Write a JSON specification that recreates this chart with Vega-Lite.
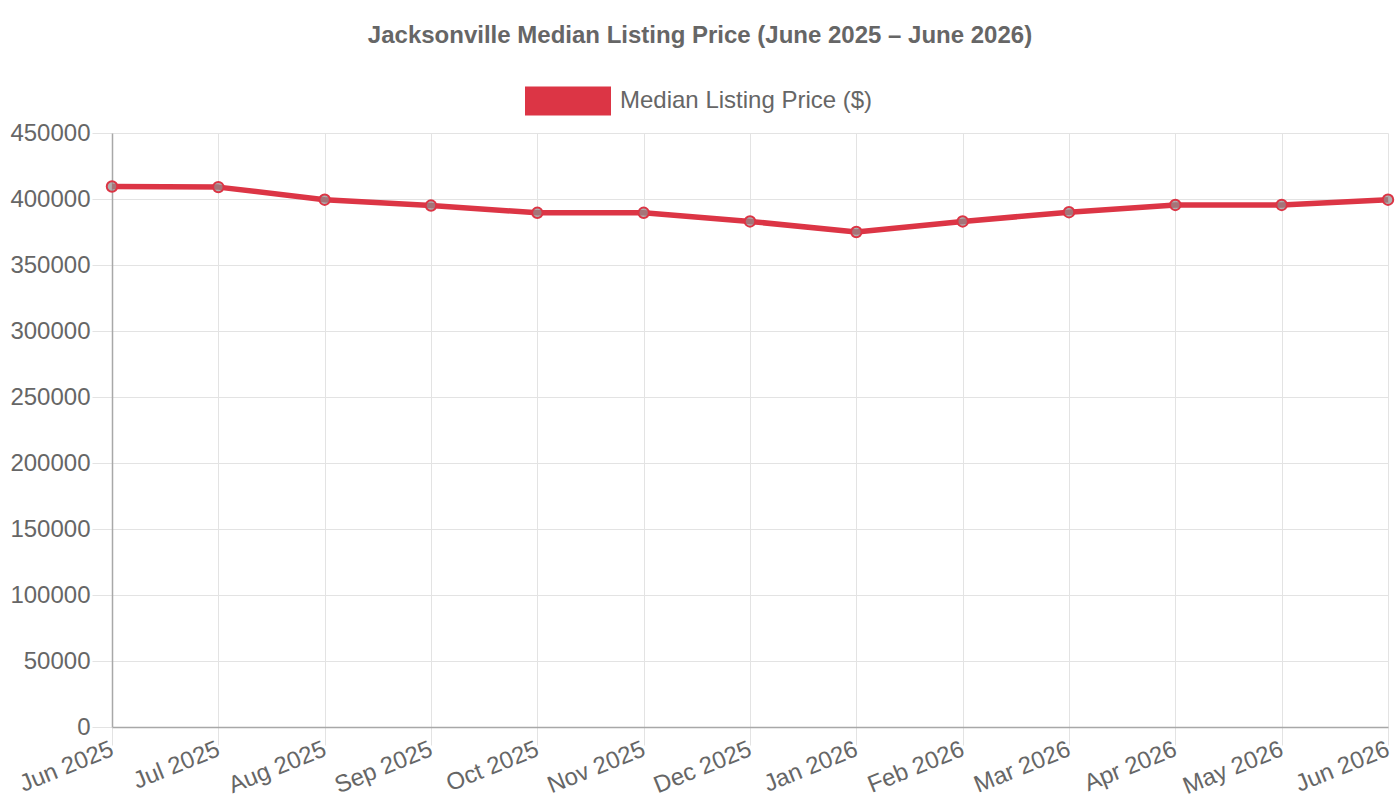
{
  "$schema": "https://vega.github.io/schema/vega-lite/v6.json",
  "autosize": "none",
  "width": 1276,
  "height": 594,
  "padding": {"left": 112, "top": 133, "right": 12, "bottom": 73},
  "background": "white",
  "title": {
    "text": "Jacksonville Median Listing Price (June 2025 – June 2026)",
    "fontSize": 24,
    "fontWeight": "bold",
    "font": "Liberation Sans",
    "color": "#666666",
    "anchor": "middle",
    "dx": -50,
    "offset": 10
  },
  "data": {
    "values": [
      {"month": "Jun 2025", "price": 409500, "series": "Median Listing Price ($)"},
      {"month": "Jul 2025", "price": 409000, "series": "Median Listing Price ($)"},
      {"month": "Aug 2025", "price": 399500, "series": "Median Listing Price ($)"},
      {"month": "Sep 2025", "price": 395000, "series": "Median Listing Price ($)"},
      {"month": "Oct 2025", "price": 389500, "series": "Median Listing Price ($)"},
      {"month": "Nov 2025", "price": 389500, "series": "Median Listing Price ($)"},
      {"month": "Dec 2025", "price": 383000, "series": "Median Listing Price ($)"},
      {"month": "Jan 2026", "price": 375000, "series": "Median Listing Price ($)"},
      {"month": "Feb 2026", "price": 383000, "series": "Median Listing Price ($)"},
      {"month": "Mar 2026", "price": 390000, "series": "Median Listing Price ($)"},
      {"month": "Apr 2026", "price": 395500, "series": "Median Listing Price ($)"},
      {"month": "May 2026", "price": 395500, "series": "Median Listing Price ($)"},
      {"month": "Jun 2026", "price": 399500, "series": "Median Listing Price ($)"}
    ]
  },
  "encoding": {
    "x": {
      "field": "month", "type": "nominal", "sort": null,
      "scale": {"type": "point", "padding": 0},
      "axis": {
        "title": null,
        "labelAngle": -22,
        "labelAlign": "right",
        "labelBaseline": "middle",
        "labelPadding": 3,
        "labelOverlap": false,
        "tickSize": 18,
        "grid": true
      }
    },
    "y": {
      "field": "price", "type": "quantitative",
      "scale": {"domain": [0, 450000], "nice": false},
      "axis": {
        "title": null,
        "values": [0, 50000, 100000, 150000, 200000, 250000, 300000, 350000, 400000, 450000],
        "format": "d",
        "tickSize": 20,
        "labelPadding": 2,
        "grid": true
      }
    }
  },
  "layer": [
    {
      "mark": {"type": "line", "strokeWidth": 5.5, "strokeJoin": "round"},
      "encoding": {
        "color": {
          "field": "series", "type": "nominal",
          "scale": {"domain": ["Median Listing Price ($)"], "range": ["#dc3545"]},
          "legend": {
            "title": null,
            "orient": "none",
            "legendX": 413,
            "legendY": -75,
            "symbolType": "M-1,-0.34H1V0.34H-1Z",
            "symbolSize": 7396,
            "labelFontSize": 24,
            "labelFont": "Liberation Sans",
            "labelColor": "#666666",
            "labelOffset": 9,
            "labelLimit": 400,
            "encode": {
              "symbols": {
                "update": {
                  "fill": {"value": "#dc3545"},
                  "stroke": {"value": "#dc3545"},
                  "strokeWidth": {"value": 0},
                  "opacity": {"value": 1}
                }
              }
            }
          }
        }
      }
    },
    {
      "mark": {
        "type": "point",
        "shape": "circle",
        "filled": true,
        "size": 110,
        "fill": "#8f8f8f",
        "fillOpacity": 0.7,
        "stroke": "#dc3545",
        "strokeWidth": 2,
        "opacity": 1
      }
    }
  ],
  "config": {
    "view": {"stroke": null},
    "font": "Liberation Sans",
    "axis": {
      "labelFont": "Liberation Sans",
      "labelFontSize": 24,
      "labelColor": "#666666",
      "gridColor": "#e3e3e3",
      "gridWidth": 1,
      "tickColor": "#e3e3e3",
      "domainColor": "#a8a8a8",
      "domainWidth": 1.5
    }
  }
}
